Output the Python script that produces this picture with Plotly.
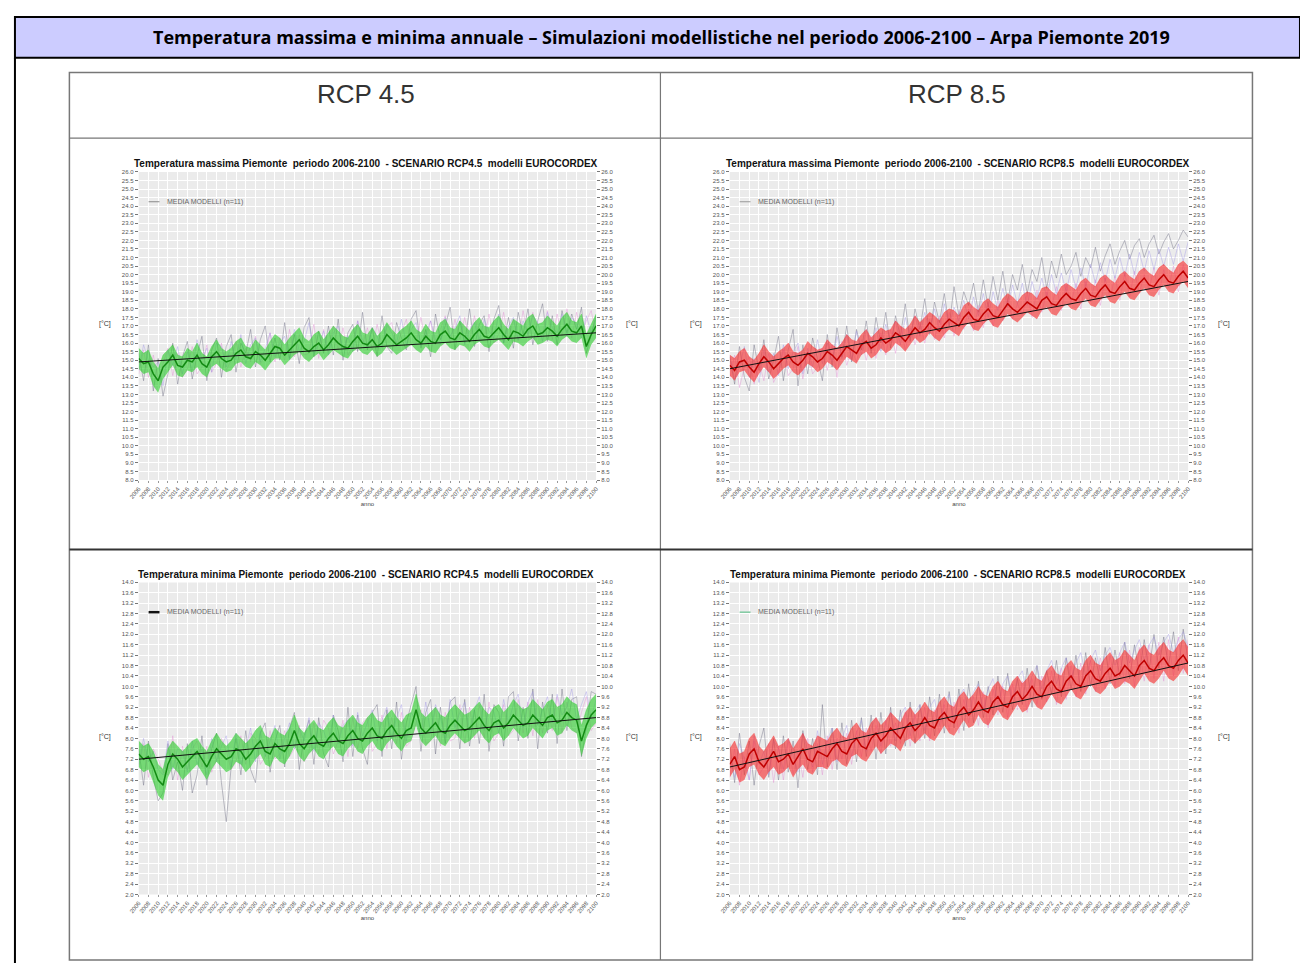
import plotly.graph_objects as go

W, H = 1300, 965
def px(x): return x / W
def py(y): return 1 - y / H

# ---------------- data ----------------
years = list(range(2006, 2101))
xtick_years = list(range(2006, 2101, 2))
tmax_ticks = [round(8.0 + 0.5 * i, 1) for i in range(37)]
tmin_ticks = [round(2.0 + 0.4 * i, 1) for i in range(31)]
trend_years = [2006, 2100]

# Tmax RCP4.5
t45max_mean = [15.1, 14.8, 14.9, 14.2, 13.8, 14.6, 14.9, 15.3, 14.7, 14.6,
               15.0, 14.9, 15.3, 14.8, 14.6, 15.2, 15.5, 15.1, 14.9, 15.0,
               15.4, 15.6, 15.2, 15.1, 15.5, 15.3, 15.0, 15.4, 15.8, 15.7,
               15.3, 15.6, 15.9, 16.2, 15.7, 15.5, 15.8, 16.0, 15.6, 15.9,
               16.3, 16.0, 15.8, 15.7, 16.1, 16.4, 16.0, 15.9, 16.2, 15.8,
               16.0, 16.5, 16.2, 15.9, 16.1, 16.3, 16.6, 16.2, 16.0, 16.4,
               16.1, 16.0, 16.5, 16.7, 16.3, 16.2, 16.6, 16.4, 16.1, 16.5,
               16.8, 16.4, 16.3, 16.6, 16.9, 16.5, 16.2, 16.7, 16.6, 16.4,
               16.8, 17.0, 16.5, 16.6, 16.9, 16.7, 16.4, 16.8, 17.1, 16.7,
               16.6, 17.0, 15.8, 16.5, 17.0]
t45max_lo = [14.5, 14.2, 14.3, 13.5, 13.1, 13.9, 14.3, 14.7, 14.1, 14.0,
             14.4, 14.3, 14.6, 14.2, 14.0, 14.6, 14.8, 14.5, 14.3, 14.4,
             14.8, 14.9, 14.6, 14.5, 14.9, 14.7, 14.4, 14.8, 15.1, 15.1,
             14.7, 15.0, 15.3, 15.5, 15.1, 14.9, 15.2, 15.4, 15.0, 15.3,
             15.6, 15.4, 15.2, 15.1, 15.5, 15.7, 15.4, 15.3, 15.6, 15.2,
             15.4, 15.8, 15.6, 15.3, 15.5, 15.7, 15.9, 15.6, 15.4, 15.8,
             15.5, 15.4, 15.8, 16.0, 15.7, 15.6, 15.9, 15.8, 15.5, 15.9,
             16.1, 15.8, 15.7, 16.0, 16.2, 15.9, 15.6, 16.1, 16.0, 15.8,
             16.1, 16.3, 15.9, 16.0, 16.2, 16.1, 15.8, 16.2, 16.4, 16.1,
             16.0, 16.3, 15.1, 15.9, 16.3]
t45max_hi = [15.7, 15.4, 15.6, 14.9, 14.5, 15.3, 15.6, 15.9, 15.3, 15.2,
             15.7, 15.5, 16.0, 15.4, 15.2, 15.8, 16.2, 15.7, 15.5, 15.7,
             16.1, 16.3, 15.8, 15.7, 16.2, 15.9, 15.6, 16.1, 16.5, 16.3,
             15.9, 16.3, 16.6, 16.9, 16.3, 16.1, 16.5, 16.7, 16.2, 16.6,
             17.0, 16.7, 16.4, 16.3, 16.8, 17.1, 16.6, 16.5, 16.9, 16.4,
             16.7, 17.2, 16.8, 16.5, 16.8, 17.0, 17.3, 16.8, 16.6, 17.1,
             16.7, 16.6, 17.2, 17.4, 16.9, 16.8, 17.3, 17.0, 16.7, 17.2,
             17.5, 17.0, 16.9, 17.3, 17.6, 17.1, 16.8, 17.4, 17.2, 17.0,
             17.5, 17.7, 17.1, 17.2, 17.6, 17.3, 17.0, 17.5, 17.8, 17.3,
             17.2, 17.7, 16.5, 17.1, 17.7]
t45max_ma = [15.4, 13.8, 15.9, 13.2, 15.1, 12.9, 14.2, 16.0, 13.6, 15.2,
             16.1, 13.9, 15.3, 16.4, 13.8, 15.6, 16.3, 14.0, 15.8, 16.5,
             14.3, 16.0, 15.4, 16.8, 14.6, 16.2, 17.0, 14.9, 16.3, 15.0,
             17.2, 15.1, 16.5, 14.8, 16.9, 17.5, 15.2, 16.7, 15.4, 17.0,
             15.3, 17.4, 15.0, 16.6, 17.1, 15.5, 17.8, 15.6, 16.9, 15.2,
             17.6, 15.8, 15.4, 17.2, 16.3, 15.6, 17.4, 17.9, 15.7, 16.8,
             15.2, 17.7, 16.2, 17.0, 18.1, 15.6, 17.3, 16.0, 18.0, 15.8,
             17.1, 17.6, 15.5, 17.4, 18.2, 16.0, 17.5, 15.7, 17.8, 16.5,
             18.0, 15.9, 17.3, 18.3, 16.1, 17.6, 15.9, 17.9, 16.6, 17.7,
             16.8, 18.1, 15.4, 16.5, 17.6]
t45max_mb = [14.2, 15.6, 14.0, 15.3, 13.9, 14.8, 15.7, 14.1, 15.4, 14.0,
             14.5, 15.8, 14.2, 14.6, 15.9, 14.3, 14.8, 16.0, 14.4, 15.0,
             16.1, 14.6, 15.7, 14.9, 16.4, 14.8, 15.2, 16.6, 14.9, 16.3,
             15.0, 16.8, 15.2, 16.5, 15.3, 15.4, 17.1, 15.1, 16.8, 15.5,
             17.0, 15.6, 16.9, 15.3, 15.8, 17.3, 15.9, 16.9, 15.6, 17.1,
             15.9, 16.9, 17.2, 15.8, 16.6, 17.4, 15.9, 16.0, 17.5, 16.1,
             17.3, 15.9, 16.8, 17.6, 16.0, 17.4, 16.2, 17.5, 16.1, 17.6,
             16.3, 16.2, 17.7, 16.0, 16.5, 17.8, 16.2, 17.4, 16.1, 17.9,
             16.4, 17.8, 16.3, 16.5, 17.9, 16.2, 17.7, 16.4, 18.0, 16.3,
             17.8, 16.5, 17.3, 17.9, 16.4]
t45max_mc = [14.4, 15.9, 15.0, 14.6, 14.9, 13.5, 15.6, 14.7, 15.8, 14.2,
             15.5, 14.4, 16.2, 15.0, 15.7, 14.3, 16.0, 15.8, 14.6, 16.1,
             15.0, 16.5, 14.8, 15.9, 16.3, 14.9, 15.7, 16.6, 15.2, 16.0,
             16.4, 15.0, 16.8, 15.5, 16.1, 17.2, 15.4, 15.9, 16.7, 15.3,
             16.6, 17.0, 15.6, 16.4, 15.5, 17.3, 16.2, 15.8, 16.9, 16.4,
             15.7, 17.1, 16.6, 16.0, 17.4, 15.9, 16.8, 17.2, 15.8, 16.5,
             17.3, 16.2, 15.9, 17.5, 16.4, 16.9, 17.6, 15.9, 16.8, 17.2,
             16.1, 17.4, 16.7, 16.3, 17.7, 16.0, 17.0, 17.5, 16.2, 17.3,
             16.5, 17.6, 17.2, 16.1, 17.8, 16.9, 16.6, 17.7, 16.4, 17.5,
             17.1, 16.3, 17.6, 16.6, 17.4]
t45max_trend = [14.9, 16.6]

# Tmax RCP8.5
t85max_mean = [14.7, 14.4, 14.9, 15.0, 14.6, 14.3, 14.8, 15.2, 14.9, 14.5,
               14.8, 15.1, 15.3, 14.9, 14.7, 15.0, 15.4, 15.2, 14.9, 15.1,
               15.5, 15.3, 15.0, 15.4, 15.8, 15.6, 15.4, 15.9, 16.1, 15.7,
               15.9, 16.3, 16.0, 16.2, 16.6, 16.4, 16.1, 16.5, 16.9, 16.6,
               16.8, 17.2, 16.9, 16.7, 17.1, 17.4, 17.2, 17.0, 17.5, 17.8,
               17.4, 17.3, 17.7, 18.0, 17.6, 17.5, 17.9, 18.3, 18.0, 17.8,
               18.1, 18.4, 18.2, 18.0, 18.5, 18.7, 18.3, 18.2, 18.6, 18.9,
               18.6, 18.5, 18.9, 19.2, 18.8, 18.7, 19.1, 19.4, 19.0, 18.9,
               19.3, 19.6, 19.2, 19.1, 19.5, 19.8, 19.4, 19.3, 19.7, 20.0,
               19.6, 19.5, 19.9, 20.2, 19.8]
t85max_lo = [14.1, 13.8, 14.3, 14.4, 14.0, 13.7, 14.2, 14.6, 14.3, 13.9,
             14.2, 14.5, 14.7, 14.3, 14.1, 14.4, 14.8, 14.6, 14.3, 14.5,
             14.9, 14.7, 14.4, 14.8, 15.2, 15.0, 14.8, 15.3, 15.5, 15.1,
             15.3, 15.7, 15.4, 15.6, 16.0, 15.8, 15.5, 15.9, 16.3, 16.0,
             16.2, 16.6, 16.3, 16.1, 16.5, 16.8, 16.6, 16.4, 16.9, 17.2,
             16.8, 16.7, 17.1, 17.4, 17.0, 16.9, 17.3, 17.7, 17.4, 17.2,
             17.5, 17.8, 17.6, 17.4, 17.9, 18.1, 17.7, 17.6, 18.0, 18.3,
             18.0, 17.9, 18.3, 18.6, 18.2, 18.1, 18.5, 18.8, 18.4, 18.3,
             18.7, 19.0, 18.6, 18.5, 18.9, 19.2, 18.8, 18.7, 19.1, 19.4,
             19.0, 18.9, 19.3, 19.6, 19.2]
t85max_hi = [15.3, 15.1, 15.5, 15.7, 15.2, 15.0, 15.4, 15.9, 15.5, 15.2,
             15.5, 15.7, 16.0, 15.5, 15.4, 15.6, 16.1, 15.8, 15.6, 15.7,
             16.2, 15.9, 15.7, 16.0, 16.5, 16.2, 16.1, 16.5, 16.8, 16.3,
             16.6, 16.9, 16.7, 16.8, 17.3, 17.0, 16.8, 17.1, 17.6, 17.2,
             17.5, 17.8, 17.6, 17.3, 17.8, 18.0, 17.9, 17.6, 18.2, 18.4,
             18.1, 17.9, 18.4, 18.6, 18.3, 18.1, 18.6, 18.9, 18.7, 18.4,
             18.8, 19.0, 18.9, 18.6, 19.2, 19.3, 19.0, 18.8, 19.3, 19.5,
             19.3, 19.1, 19.6, 19.8, 19.5, 19.3, 19.8, 20.0, 19.7, 19.5,
             20.0, 20.2, 19.9, 19.7, 20.2, 20.4, 20.1, 19.9, 20.4, 20.6,
             20.3, 20.1, 20.6, 20.8, 20.5]
t85max_ma = [15.2, 13.6, 15.8, 14.0, 13.2, 15.9, 14.4, 16.2, 13.9, 15.0,
             16.4, 13.8, 15.6, 16.8, 13.5, 15.9, 14.2, 16.3, 15.1, 13.8,
             16.5, 14.6, 16.9, 15.2, 17.0, 14.9, 16.8, 15.6, 17.3, 15.4,
             17.5, 16.0, 17.8, 15.7, 17.6, 16.4, 18.3, 16.1, 18.0, 16.8,
             18.6, 16.5, 18.4, 17.2, 18.9, 17.0, 19.3, 17.6, 19.0, 18.2,
             19.5, 17.8, 19.7, 18.1, 19.9, 18.5, 20.2, 18.4, 20.0, 19.1,
             20.6, 18.9, 20.3, 19.6, 21.0, 19.2, 20.8, 19.8, 21.2, 20.0,
             20.5, 21.3, 19.9, 21.0, 20.4, 21.6, 20.2, 21.1, 21.8, 20.6,
             21.4, 22.0, 20.9, 21.7, 22.1, 21.0, 21.8, 22.3, 21.2, 21.9,
             22.4, 21.5, 22.0, 22.6, 22.2]
t85max_mb = [13.9, 15.3, 13.4, 14.6, 15.2, 13.6, 14.9, 13.8, 15.4, 13.7,
             14.3, 15.6, 14.1, 14.5, 15.8, 13.9, 15.5, 14.2, 14.6, 15.7,
             14.4, 15.9, 14.0, 16.1, 14.7, 15.6, 14.9, 16.2, 15.0, 16.4,
             15.1, 16.6, 15.3, 16.8, 15.4, 17.0, 15.6, 16.9, 15.9, 17.2,
             16.0, 17.4, 16.2, 17.6, 16.3, 17.8, 16.4, 17.9, 16.8, 18.0,
             16.7, 18.2, 16.9, 18.4, 17.0, 18.5, 17.3, 18.6, 17.4, 18.3,
             17.6, 18.9, 17.5, 19.1, 17.8, 19.0, 18.1, 19.3, 17.9, 19.4,
             18.3, 19.5, 18.0, 19.6, 18.4, 19.7, 18.2, 19.8, 18.6, 19.9,
             18.5, 20.1, 18.7, 20.2, 18.9, 20.0, 19.1, 20.4, 18.8, 20.3,
             19.2, 20.5, 19.0, 20.6, 19.4]
t85max_mc = [15.3, 13.9, 14.6, 15.8, 14.0, 15.1, 13.7, 15.6, 14.3, 15.4,
             14.1, 15.9, 14.5, 15.5, 16.0, 14.2, 15.7, 14.6, 16.2, 14.8,
             16.0, 14.9, 16.4, 15.1, 16.5, 15.0, 16.7, 15.3, 16.8, 15.6,
             16.9, 15.5, 17.1, 16.1, 17.3, 15.9, 17.5, 16.3, 17.6, 16.4,
             17.8, 16.6, 18.0, 16.8, 18.3, 17.0, 18.1, 17.3, 18.5, 17.4,
             18.7, 17.6, 18.9, 17.5, 19.0, 17.9, 19.2, 18.1, 19.4, 18.3,
             19.5, 18.2, 19.6, 18.6, 19.8, 18.7, 20.0, 18.9, 20.1, 19.0,
             20.3, 19.2, 20.4, 19.3, 20.6, 19.5, 20.7, 19.6, 20.9, 19.8,
             21.0, 19.9, 21.2, 20.0, 21.3, 20.2, 21.4, 20.3, 21.5, 20.5,
             21.6, 20.6, 21.8, 20.8, 21.9]
t85max_trend = [14.5, 19.6]

# Tmin RCP4.5
t45min_mean = [7.4, 7.2, 7.3, 6.9, 6.4, 6.2, 7.0, 7.4, 7.2, 6.9,
               7.1, 7.3, 7.5, 7.2, 6.9, 7.3, 7.6, 7.4, 7.2, 7.3,
               7.6, 7.5, 7.2, 7.4, 7.7, 7.9, 7.5, 7.4, 7.8, 7.6,
               7.5, 7.8, 8.3, 7.8, 7.6, 7.9, 8.1, 7.8, 7.7, 8.0,
               8.2, 7.9, 7.8, 8.1, 8.3, 8.0, 7.9, 8.2, 8.4, 8.1,
               8.0, 8.3, 8.5, 8.2, 8.0, 8.3, 8.4, 9.1, 8.4, 8.2,
               8.4, 8.6, 8.3, 8.2, 8.5, 8.7, 8.5, 8.3, 8.4, 8.6,
               8.8, 8.5, 8.3, 8.6, 8.7, 8.4, 8.6, 8.9, 8.7, 8.5,
               8.6, 8.9, 8.7, 8.5, 8.8, 8.9, 8.6, 8.7, 9.0, 8.8,
               8.7, 7.9, 8.5, 8.9, 9.1]
t45min_lo = [6.9, 6.7, 6.8, 6.3, 5.8, 5.6, 6.5, 6.9, 6.7, 6.4,
             6.6, 6.8, 7.0, 6.7, 6.4, 6.8, 7.1, 6.9, 6.7, 6.8,
             7.1, 7.0, 6.7, 6.9, 7.2, 7.4, 7.0, 6.9, 7.3, 7.1,
             7.0, 7.3, 7.7, 7.3, 7.1, 7.4, 7.6, 7.3, 7.2, 7.5,
             7.7, 7.4, 7.3, 7.6, 7.8, 7.5, 7.4, 7.7, 7.9, 7.6,
             7.5, 7.8, 8.0, 7.7, 7.5, 7.8, 7.9, 8.5, 7.9, 7.7,
             7.9, 8.1, 7.8, 7.7, 8.0, 8.2, 8.0, 7.8, 7.9, 8.1,
             8.3, 8.0, 7.8, 8.1, 8.2, 7.9, 8.1, 8.4, 8.2, 8.0,
             8.1, 8.4, 8.2, 8.0, 8.3, 8.4, 8.1, 8.2, 8.5, 8.3,
             8.2, 7.3, 8.0, 8.4, 8.6]
t45min_hi = [7.9, 7.7, 7.8, 7.5, 7.0, 6.8, 7.6, 7.9, 7.7, 7.5,
             7.7, 7.9, 8.0, 7.7, 7.5, 7.9, 8.2, 7.9, 7.7, 7.9,
             8.2, 8.0, 7.8, 8.0, 8.3, 8.5, 8.1, 8.0, 8.4, 8.2,
             8.1, 8.4, 8.9, 8.4, 8.2, 8.5, 8.7, 8.4, 8.3, 8.6,
             8.8, 8.5, 8.4, 8.7, 8.9, 8.6, 8.5, 8.8, 9.0, 8.7,
             8.6, 8.9, 9.1, 8.8, 8.6, 8.9, 9.0, 9.7, 9.0, 8.8,
             9.0, 9.2, 8.9, 8.8, 9.1, 9.3, 9.1, 8.9, 9.0, 9.2,
             9.4, 9.1, 8.9, 9.2, 9.3, 9.0, 9.2, 9.5, 9.3, 9.1,
             9.2, 9.5, 9.3, 9.1, 9.4, 9.5, 9.2, 9.3, 9.6, 9.4,
             9.3, 8.5, 9.1, 9.5, 9.7]
t45min_ma = [7.6, 6.2, 7.9, 6.5, 5.6, 5.9, 7.8, 6.4, 7.1, 6.0,
             7.8, 5.9, 6.6, 8.1, 6.2, 7.6, 8.2, 6.3, 4.8, 6.9,
             8.0, 6.6, 8.3, 6.8, 6.3, 8.2, 8.6, 6.7, 7.9, 8.5,
             6.9, 8.4, 9.0, 6.8, 8.1, 8.7, 7.0, 8.8, 7.4, 6.9,
             8.9, 8.3, 7.1, 9.2, 7.3, 8.9, 7.6, 7.0, 9.0, 9.3,
             7.3, 9.1, 7.6, 9.4, 7.2, 8.6, 9.3, 10.0, 7.5, 9.0,
             9.5, 7.4, 9.2, 7.8, 9.4, 9.6, 7.6, 9.5, 7.7, 9.1,
             7.8, 9.7, 7.5, 9.3, 9.0, 7.7, 9.6, 9.8, 7.9, 9.2,
             8.0, 9.9, 7.6, 9.4, 8.2, 9.7, 7.8, 9.9, 8.3, 9.5,
             9.6, 7.3, 8.4, 9.8, 9.7]
t45min_mb = [6.9, 7.8, 6.5, 7.6, 7.2, 6.7, 6.6, 8.1, 6.4, 7.7,
             6.8, 7.6, 7.9, 6.9, 7.7, 6.7, 7.2, 8.0, 7.5, 6.8,
             7.1, 8.1, 7.0, 8.2, 8.0, 7.0, 7.3, 8.3, 7.2, 7.4,
             8.3, 7.3, 7.6, 8.5, 7.1, 7.5, 8.6, 7.4, 8.7, 8.4,
             7.4, 7.9, 8.7, 7.3, 8.8, 7.6, 8.6, 8.8, 7.5, 7.8,
             8.9, 7.6, 8.8, 7.8, 9.0, 7.7, 7.9, 8.6, 9.1, 7.8,
             7.9, 9.2, 7.7, 9.0, 7.9, 8.0, 9.3, 7.8, 9.2, 8.0,
             9.3, 8.0, 9.4, 7.9, 8.2, 9.3, 8.1, 8.3, 9.5, 8.2,
             9.4, 8.1, 9.5, 8.2, 9.3, 8.3, 9.6, 8.2, 9.4, 8.4,
             8.2, 9.0, 9.6, 8.3, 8.6]
t45min_mc = [7.0, 8.0, 7.1, 7.5, 6.8, 6.6, 7.9, 6.8, 7.6, 7.5,
             6.7, 7.9, 7.0, 7.6, 6.6, 8.0, 7.1, 7.7, 8.1, 6.9,
             8.2, 7.0, 7.6, 8.4, 7.1, 8.3, 7.3, 7.9, 8.5, 7.2,
             8.0, 8.6, 7.6, 8.4, 7.9, 8.8, 7.5, 8.6, 8.3, 7.7,
             8.9, 7.8, 8.5, 8.7, 7.7, 9.0, 8.1, 8.6, 9.1, 7.9,
             8.7, 9.2, 8.0, 8.8, 9.3, 7.9, 9.0, 8.7, 8.1, 9.4,
             8.2, 9.3, 8.8, 8.0, 9.5, 8.4, 9.0, 9.4, 8.3, 9.1,
             9.6, 8.3, 9.2, 9.0, 8.2, 9.5, 8.6, 9.3, 9.7, 8.4,
             9.4, 9.8, 8.5, 9.1, 9.6, 8.6, 9.7, 8.9, 9.2, 9.9,
             8.7, 9.3, 9.8, 8.8, 9.5]
t45min_trend = [7.2, 8.8]

# Tmin RCP8.5
t85min_mean = [7.0, 7.3, 6.8, 6.9, 7.4, 7.6, 7.1, 6.9, 7.2, 7.5,
               7.1, 7.2, 7.4, 7.0, 7.3, 7.6, 7.2, 7.1, 7.5, 7.4,
               7.3, 7.6, 7.8, 7.5, 7.4, 7.8, 8.0, 7.7, 7.6, 8.0,
               8.2, 7.9, 8.1, 8.4, 8.2, 8.0, 8.4, 8.6, 8.3, 8.5,
               8.8, 8.5, 8.4, 8.8, 9.0, 8.7, 8.6, 9.0, 9.2, 8.9,
               9.1, 9.4, 9.1, 9.0, 9.4, 9.6, 9.3, 9.2, 9.6, 9.8,
               9.5, 9.7, 10.0, 9.7, 9.6, 10.0, 10.2, 9.9, 9.8, 10.2,
               10.4, 10.1, 10.0, 10.4, 10.6, 10.3, 10.2, 10.5, 10.7, 10.4,
               10.5, 10.8, 10.6, 10.4, 10.8, 11.0, 10.7, 10.6, 10.9, 11.1,
               10.8, 10.7, 11.0, 11.2, 10.9]
t85min_lo = [6.5, 6.8, 6.3, 6.4, 6.9, 7.0, 6.6, 6.4, 6.7, 6.9,
             6.6, 6.7, 6.9, 6.5, 6.8, 7.0, 6.7, 6.6, 6.9, 6.9,
             6.8, 7.1, 7.2, 7.0, 6.9, 7.3, 7.4, 7.2, 7.1, 7.4,
             7.7, 7.4, 7.6, 7.8, 7.7, 7.5, 7.9, 8.0, 7.8, 8.0,
             8.2, 8.0, 7.9, 8.2, 8.5, 8.2, 8.1, 8.4, 8.7, 8.4,
             8.5, 8.9, 8.6, 8.5, 8.8, 9.1, 8.8, 8.7, 9.0, 9.3,
             9.0, 9.1, 9.5, 9.2, 9.1, 9.4, 9.7, 9.4, 9.3, 9.6,
             9.9, 9.6, 9.5, 9.8, 10.1, 9.8, 9.7, 9.9, 10.2, 9.9,
             10.0, 10.2, 10.1, 9.9, 10.2, 10.5, 10.2, 10.1, 10.3, 10.6,
             10.3, 10.2, 10.4, 10.7, 10.4]
t85min_hi = [7.6, 7.9, 7.4, 7.5, 8.0, 8.2, 7.7, 7.5, 7.8, 8.1,
             7.7, 7.8, 8.0, 7.6, 7.9, 8.2, 7.8, 7.7, 8.1, 8.0,
             7.9, 8.2, 8.4, 8.1, 8.0, 8.4, 8.6, 8.3, 8.2, 8.6,
             8.8, 8.5, 8.7, 9.0, 8.8, 8.6, 9.0, 9.2, 8.9, 9.1,
             9.4, 9.1, 9.0, 9.4, 9.6, 9.3, 9.2, 9.6, 9.8, 9.5,
             9.7, 10.0, 9.7, 9.6, 10.0, 10.2, 9.9, 9.8, 10.2, 10.4,
             10.1, 10.3, 10.6, 10.3, 10.2, 10.6, 10.8, 10.5, 10.4, 10.8,
             11.0, 10.7, 10.6, 11.0, 11.2, 10.9, 10.8, 11.1, 11.3, 11.0,
             11.1, 11.4, 11.2, 11.0, 11.4, 11.6, 11.3, 11.2, 11.5, 11.7,
             11.4, 11.3, 11.6, 11.8, 11.5]
t85min_ma = [7.8, 6.3, 8.2, 6.6, 7.9, 6.2, 7.7, 8.4, 6.5, 8.0,
             6.4, 8.1, 6.7, 7.9, 6.1, 8.3, 6.8, 8.0, 6.6, 9.3,
             6.9, 8.4, 6.8, 8.6, 7.0, 8.7, 7.1, 8.8, 7.3, 8.9,
             7.2, 9.0, 7.4, 9.2, 7.6, 9.1, 7.7, 9.4, 7.8, 9.3,
             8.0, 9.6, 8.1, 9.7, 8.2, 9.8, 8.4, 9.9, 8.3, 10.1,
             8.6, 10.2, 8.8, 10.0, 8.9, 10.4, 9.0, 10.5, 9.1, 10.3,
             9.3, 10.7, 9.2, 10.8, 9.5, 10.6, 9.7, 11.0, 9.6, 11.1,
             9.9, 11.2, 9.8, 11.3, 10.0, 11.1, 10.2, 11.5, 10.1, 11.4,
             10.4, 11.7, 10.3, 11.6, 10.5, 11.8, 10.6, 12.0, 10.7, 11.9,
             10.8, 12.1, 10.6, 12.2, 11.0]
t85min_mb = [6.5, 7.6, 6.2, 7.3, 6.4, 7.9, 6.6, 6.9, 7.8, 6.3,
             7.7, 6.4, 7.9, 6.6, 7.5, 6.5, 8.0, 6.7, 7.8, 6.6,
             8.1, 6.8, 8.0, 7.2, 8.2, 7.0, 8.3, 7.3, 8.4, 7.5,
             8.5, 7.4, 8.7, 7.7, 8.6, 7.8, 9.0, 7.7, 8.9, 7.9,
             9.2, 7.9, 9.1, 8.2, 9.3, 8.3, 9.4, 8.2, 9.5, 8.6,
             9.6, 8.5, 9.8, 8.4, 9.9, 8.9, 10.0, 8.8, 10.1, 9.1,
             10.2, 9.0, 10.3, 9.3, 10.4, 9.4, 10.6, 9.3, 10.7, 9.5,
             10.8, 9.6, 10.9, 9.7, 11.0, 9.8, 11.1, 9.9, 11.2, 10.0,
             11.3, 10.1, 11.4, 10.0, 11.5, 10.2, 11.6, 10.3, 11.7, 10.2,
             11.8, 10.4, 11.9, 10.5, 11.8]
t85min_mc = [7.3, 6.5, 7.8, 7.2, 6.4, 8.1, 7.0, 7.5, 6.6, 7.9,
             7.6, 6.8, 8.0, 7.3, 6.7, 8.2, 7.5, 6.9, 8.3, 7.0,
             7.9, 8.4, 7.1, 8.0, 8.5, 7.3, 8.2, 8.7, 7.5, 8.4,
             8.8, 7.7, 8.6, 9.0, 7.9, 8.9, 9.2, 8.1, 9.0, 9.3,
             8.3, 9.2, 9.5, 8.5, 9.4, 9.7, 8.7, 9.6, 9.9, 8.9,
             9.8, 10.1, 9.1, 9.9, 10.3, 9.3, 10.1, 10.4, 9.5, 10.3,
             10.6, 9.7, 10.4, 10.8, 9.9, 10.6, 11.0, 10.1, 10.7, 11.1,
             10.3, 10.9, 11.3, 10.4, 11.0, 11.4, 10.6, 11.2, 11.5, 10.8,
             11.3, 11.7, 10.9, 11.4, 11.8, 11.0, 11.6, 11.9, 11.2, 11.7,
             12.0, 11.3, 11.8, 12.1, 11.5]
t85min_trend = [6.9, 10.9]

for arr in [t45max_mean, t45max_lo, t45max_hi, t45max_ma, t45max_mb, t45max_mc,
            t85max_mean, t85max_lo, t85max_hi, t85max_ma, t85max_mb, t85max_mc,
            t45min_mean, t45min_lo, t45min_hi, t45min_ma, t45min_mb, t45min_mc,
            t85min_mean, t85min_lo, t85min_hi, t85min_ma, t85min_mb, t85min_mc]:
    assert len(arr) == len(years), len(arr)

# ---------------- layout spec ----------------
GREEN = dict(fill="rgba(45,205,45,0.62)", line="#128a12")
RED = dict(fill="rgba(245,45,45,0.62)", line="#c00000")

charts = [
    dict(title="Temperatura massima Piemonte  periodo 2006-2100  - SCENARIO RCP4.5  modelli EUROCORDEX",
         mean=t45max_mean, lo=t45max_lo, hi=t45max_hi, models=[t45max_ma, t45max_mb, t45max_mc],
         trend=t45max_trend, ticks=tmax_ticks, rng=[8.0, 26.0], box=(130, 592, 170, 480), col=GREEN,
         leg_color="#888888", leg_w=1),
    dict(title="Temperatura massima Piemonte  periodo 2006-2100  - SCENARIO RCP8.5  modelli EUROCORDEX",
         mean=t85max_mean, lo=t85max_lo, hi=t85max_hi, models=[t85max_ma, t85max_mb, t85max_mc],
         trend=t85max_trend, ticks=tmax_ticks, rng=[8.0, 26.0], box=(727, 1190, 170, 480), col=RED,
         leg_color="#999999", leg_w=1),
    dict(title="Temperatura minima Piemonte  periodo 2006-2100  - SCENARIO RCP4.5  modelli EUROCORDEX",
         mean=t45min_mean, lo=t45min_lo, hi=t45min_hi, models=[t45min_ma, t45min_mb, t45min_mc],
         trend=t45min_trend, ticks=tmin_ticks, rng=[2.0, 14.0], box=(130, 592, 583, 897), col=GREEN,
         leg_color="#111111", leg_w=2.5),
    dict(title="Temperatura minima Piemonte  periodo 2006-2100  - SCENARIO RCP8.5  modelli EUROCORDEX",
         mean=t85min_mean, lo=t85min_lo, hi=t85min_hi, models=[t85min_ma, t85min_mb, t85min_mc],
         trend=t85min_trend, ticks=tmin_ticks, rng=[2.0, 14.0], box=(727, 1190, 583, 897), col=RED,
         leg_color="#7fc9a0", leg_w=1.5),
]
MODEL_COLORS = ["rgba(110,110,130,0.55)", "rgba(225,140,210,0.50)", "rgba(160,150,230,0.50)"]

fig = go.Figure()
annotations = []
shapes = []
TICKFONT = dict(family="Liberation Sans", size=6, color="#555555")

for i, c in enumerate(charts, start=1):
    xa, ya, yr = f"x{i}", f"y{i}", f"y{i + 4}"
    x0, x1, y0, y1 = c["box"]
    for m, mc in zip(c["models"], MODEL_COLORS):
        fig.add_trace(go.Scatter(x=years, y=m, mode="lines", xaxis=xa, yaxis=ya,
                                 line=dict(color=mc, width=0.8), showlegend=False))
    fig.add_trace(go.Scatter(x=years, y=c["lo"], mode="lines", xaxis=xa, yaxis=ya,
                             line=dict(width=0, color=c["col"]["fill"]), showlegend=False))
    fig.add_trace(go.Scatter(x=years, y=c["hi"], mode="lines", xaxis=xa, yaxis=ya, fill="tonexty",
                             fillcolor=c["col"]["fill"], line=dict(width=0.5, color=c["col"]["fill"]),
                             showlegend=False))
    fig.add_trace(go.Scatter(x=years, y=c["mean"], mode="lines", xaxis=xa, yaxis=ya,
                             line=dict(color=c["col"]["line"], width=1.5), showlegend=False))
    fig.add_trace(go.Scatter(x=trend_years, y=c["trend"], mode="lines", xaxis=xa, yaxis=yr,
                             line=dict(color="#111111", width=1), showlegend=False))

    ticktext = [f"{t:.1f}" for t in c["ticks"]]
    common_y = dict(range=c["rng"], tickvals=c["ticks"], ticktext=ticktext, tickfont=TICKFONT,
                    ticks="outside", ticklen=3, tickcolor="#777777", zeroline=False, fixedrange=True)
    fig.update_layout(**{
        f"xaxis{i}": dict(domain=[px(x0), px(x1)], anchor=ya, range=[2006, 2100],
                          tickvals=xtick_years, ticktext=[str(v) for v in xtick_years],
                          tickangle=-50, tickfont=TICKFONT, ticks="outside", ticklen=2,
                          tickcolor="#999999", showgrid=True, gridcolor="#ffffff", gridwidth=0.6,
                          zeroline=False,
                          title=dict(text="anno", font=dict(family="Liberation Sans", size=6, color="#444"),
                                     standoff=2)),
        f"yaxis{i}": dict(domain=[py(y1), py(y0)], anchor=xa, side="left", showgrid=True,
                          gridcolor="#ffffff", gridwidth=0.6, **common_y),
        f"yaxis{i + 4}": dict(domain=[py(y1), py(y0)], anchor=xa, overlaying=ya, side="right",
                              showgrid=False, **common_y),
    })
    shapes.append(dict(type="rect", xref="paper", yref="paper", x0=px(x0), x1=px(x1), y0=py(y1), y1=py(y0),
                       fillcolor="#ebebeb", line=dict(width=0), layer="below"))
    annotations.append(dict(x=px((x0 + x1) / 2 - 1), y=py(y0 - 8), xref="paper", yref="paper",
                            text=f"<b>{c['title']}</b>", showarrow=False, xanchor="center", yanchor="middle",
                            font=dict(family="Liberation Sans", size=10, color="#111111")))
    ymid = y0 + (y1 - y0) * 0.495
    annotations.append(dict(x=px(x0 - 26), y=py(ymid), xref="paper", yref="paper", text="[°C]",
                            showarrow=False, xanchor="right", yanchor="middle",
                            font=dict(family="Liberation Sans", size=7, color="#333")))
    annotations.append(dict(x=px(x1 + 28), y=py(ymid), xref="paper", yref="paper", text="[°C]",
                            showarrow=False, xanchor="left", yanchor="middle",
                            font=dict(family="Liberation Sans", size=7, color="#333")))
    shapes.append(dict(type="line", xref="paper", yref="paper", x0=px(x0 + 10), x1=px(x0 + 21),
                       y0=py(y0 + 30), y1=py(y0 + 30), line=dict(color=c["leg_color"], width=c["leg_w"])))
    annotations.append(dict(x=px(x0 + 27), y=py(y0 + 30), xref="paper", yref="paper",
                            text="MEDIA MODELLI (n=11)", showarrow=False, xanchor="left", yanchor="middle",
                            font=dict(family="Liberation Sans", size=7, color="#666666")))

shapes += [
    dict(type="rect", xref="paper", yref="paper", x0=px(5), x1=px(1303), y0=py(55), y1=py(14),
         fillcolor="#ccccff", line=dict(color="#000000", width=2), layer="below"),
    dict(type="line", xref="paper", yref="paper", x0=px(5), x1=px(5), y0=py(55), y1=py(966),
         line=dict(color="#000000", width=2)),
    dict(type="rect", xref="paper", yref="paper", x0=px(60), x1=px(1255), y0=py(963), y1=py(70),
         line=dict(color="#777777", width=1.5)),
    dict(type="line", xref="paper", yref="paper", x0=px(60), x1=px(1255), y0=py(136), y1=py(136),
         line=dict(color="#777777", width=1.2)),
    dict(type="line", xref="paper", yref="paper", x0=px(657), x1=px(657), y0=py(70), y1=py(963),
         line=dict(color="#777777", width=1.2)),
    dict(type="line", xref="paper", yref="paper", x0=px(60), x1=px(1255), y0=py(550), y1=py(550),
         line=dict(color="#333333", width=2)),
]
annotations += [
    dict(x=px(658), y=py(34), xref="paper", yref="paper",
         text="<b>Temperatura massima e minima annuale – Simulazioni modellistiche nel periodo 2006-2100 – Arpa Piemonte 2019</b>",
         showarrow=False, xanchor="center", yanchor="middle",
         font=dict(family="Open Sans", size=18, color="#000000")),
    dict(x=px(360), y=py(92), xref="paper", yref="paper", text="RCP 4.5", showarrow=False,
         xanchor="center", yanchor="middle", font=dict(family="Liberation Sans", size=26, color="#333333")),
    dict(x=px(957), y=py(92), xref="paper", yref="paper", text="RCP 8.5", showarrow=False,
         xanchor="center", yanchor="middle", font=dict(family="Liberation Sans", size=26, color="#333333")),
]

fig.update_layout(width=W, height=H, margin=dict(l=0, r=0, t=0, b=0), autosize=False,
                  paper_bgcolor="#ffffff", plot_bgcolor="rgba(0,0,0,0)", showlegend=False,
                  shapes=shapes, annotations=annotations)

fig.write_html("out.html", config={"displayModeBar": False},
               post_script="document.body.style.margin='0px';document.body.style.overflow='hidden';")
